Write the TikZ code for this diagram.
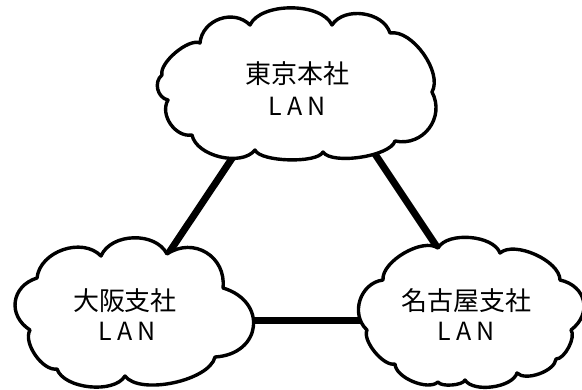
\documentclass[tikz,border=0pt]{standalone}
\usepackage{fontspec}
\newfontfamily\cjkfont{Noto Sans CJK JP}
\newcommand\spacedlan{L\kern5pt A\kern5pt N}
\begin{document}
\begin{tikzpicture}[x=1pt,y=1pt,
  cloudline/.style={line width=3.4pt, fill=white, line join=round},
  link/.style={line width=7pt},
  p/.style={bend left=65, looseness=#1},
  kanji/.style={anchor=base, font=\cjkfont\fontsize{26}{26}\selectfont, inner sep=0pt},
  lan/.style={anchor=base, font=\cjkfont\fontsize{25}{25}\selectfont, inner sep=0pt}]
\useasboundingbox (0,0) rectangle (582,-389);

% connector end points inside the clouds
\coordinate (tokyo-sw) at (251,-130);
\coordinate (osaka-ne) at (154,-275);
\coordinate (tokyo-se) at (359,-130);
\coordinate (nagoya-nw) at (455,-274);
\coordinate (osaka-e) at (225,-320);
\coordinate (nagoya-w) at (390,-320);

\draw[link] (tokyo-sw) -- (osaka-ne);
\draw[link] (tokyo-se) -- (nagoya-nw);
\draw[link] (osaka-e) -- (nagoya-w);

% Tokyo cloud
\draw[cloudline] (168,-100) to[p=1.09] (162,-75) to[p=0.64] (200,-43)
  to[p=1.13] (250,-25) to[p=0.79] (332,-25) to[p=0.98] (390,-33)
  to[p=0.79] (432,-92) to[p=1.2] (395,-141) to[p=0.56] (323,-152)
  to[p=0.49] (255,-150) to[p=0.86] (192,-135) to[p=1.02] (168,-100) -- cycle;

% Osaka cloud
\draw[cloudline] (37,-278) to[p=1.02] (101,-256) to[p=0.98] (167,-254)
  to[p=1.24] (223,-288) to[bend left=80, looseness=1.73] (215,-357)
  to[p=0.68] (125,-376) to[p=0.79] (57,-369) to[p=0.79] (30,-330)
  to[p=1.32] (37,-278) -- cycle;

% Nagoya cloud
\draw[cloudline] (383,-280) to[p=0.75] (438,-248) to[p=0.79] (500,-253)
  to[p=0.75] (560,-280) to[p=1.35] (571,-330) to[p=0.68] (556,-359)
  to[p=0.75] (517,-373) to[p=0.75] (465,-380) to[p=0.56] (438,-382)
  to[p=0.75] (395,-364) to[p=0.68] (367,-330) to[p=1.13] (383,-280) -- cycle;

\node[kanji] (tokyo) at (297,-83) {東京本社};
\node[lan] (tokyo-lan) at (297,-115) {\spacedlan};
\node[kanji] (osaka) at (125,-310) {大阪支社};
\node[lan] (osaka-lan) at (127,-340) {\spacedlan};
\node[kanji] (nagoya) at (466,-310) {名古屋支社};
\node[lan] (nagoya-lan) at (466,-340) {\spacedlan};
\end{tikzpicture}
\end{document}
